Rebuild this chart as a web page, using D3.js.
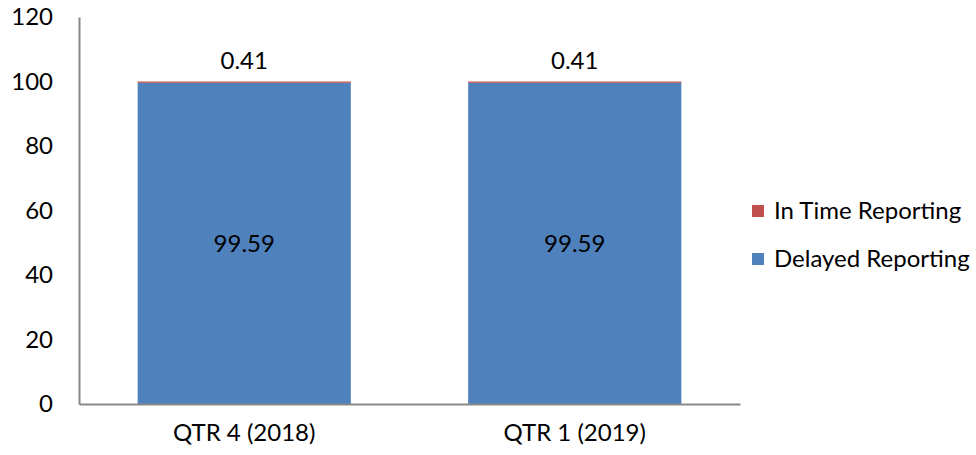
<!DOCTYPE html>
<html><head><meta charset="utf-8">
<script src="https://cdn.jsdelivr.net/npm/d3@7"></script>
<style>body{margin:0;background:#fff}svg{display:block}text{font-family:Lato,"Open Sans",sans-serif;fill:#000}</style>
</head><body><svg id="c" width="976" height="455"></svg>
<script>
const categories = ["QTR 4 (2018)", "QTR 1 (2019)"];
const delayed = [99.59, 99.59];
const inTime = [0.41, 0.41];
const yTicks = [0, 20, 40, 60, 80, 100, 120];
const seriesNames = ["In Time Reporting", "Delayed Reporting"];
const colors = {"In Time Reporting": "#c0504d", "Delayed Reporting": "#4f81bd"};
const FS = 24;

const svg = d3.select("#c");
const m = {l: 79, r: 236, t: 17, b: 51};
const W = 976, H = 455;
const x = d3.scaleBand().domain(categories).range([m.l, W - m.r]).paddingInner(0.355).paddingOuter(0.1775);
const y = d3.scaleLinear().domain([0, 120]).range([H - m.b, m.t]);

const data = categories.map((c, i) => ({cat: c, "Delayed Reporting": delayed[i], "In Time Reporting": inTime[i]}));
const stack = d3.stack().keys(["Delayed Reporting", "In Time Reporting"])(data);

svg.append("g").selectAll("g").data(stack).join("g")
  .attr("fill", d => colors[d.key])
  .selectAll("rect").data(d => d).join("rect")
  .attr("x", d => x(d.data.cat)).attr("width", x.bandwidth())
  .attr("y", d => y(d[1])).attr("height", d => y(d[0]) - y(d[1]));

// axes
const ya = svg.append("g").attr("transform", `translate(${m.l},0)`)
  .call(d3.axisLeft(y).tickValues(yTicks).tickSize(0).tickPadding(26));
ya.select(".domain").attr("stroke", "#888").attr("stroke-width", 2);
ya.selectAll("text").attr("font-size", FS).style("font-family", "Lato, 'Open Sans', sans-serif");

const xa = svg.append("g").attr("transform", `translate(0,${H - m.b})`)
  .call(d3.axisBottom(x).tickSize(0).tickPadding(20));
xa.select(".domain").attr("stroke", "#888").attr("stroke-width", 2);
xa.selectAll("text").attr("font-size", FS).style("font-family", "Lato, 'Open Sans', sans-serif");

// labels
svg.append("g").selectAll("text").data(data).join("text")
  .attr("x", d => x(d.cat) + x.bandwidth() / 2)
  .attr("y", d => y((d["Delayed Reporting"]) / 2))
  .attr("dy", "0.35em").attr("text-anchor", "middle").attr("font-size", FS)
  .text(d => d["Delayed Reporting"].toFixed(2));
svg.append("g").selectAll("text").data(data).join("text")
  .attr("x", d => x(d.cat) + x.bandwidth() / 2)
  .attr("y", d => y(d["Delayed Reporting"] + d["In Time Reporting"]) - 21)
  .attr("dy", "0.35em").attr("text-anchor", "middle").attr("font-size", FS)
  .text(d => d["In Time Reporting"].toFixed(2));

// legend
const lg = svg.append("g").selectAll("g").data(seriesNames).join("g")
  .attr("transform", (d, i) => `translate(752,${211 + i * 48})`);
lg.append("rect").attr("x", 0).attr("y", -6).attr("width", 12).attr("height", 12).attr("fill", d => colors[d]);
lg.append("text").attr("x", 22).attr("y", 0).attr("dy", "0.35em").attr("font-size", FS).text(d => d);
</script></body></html>
